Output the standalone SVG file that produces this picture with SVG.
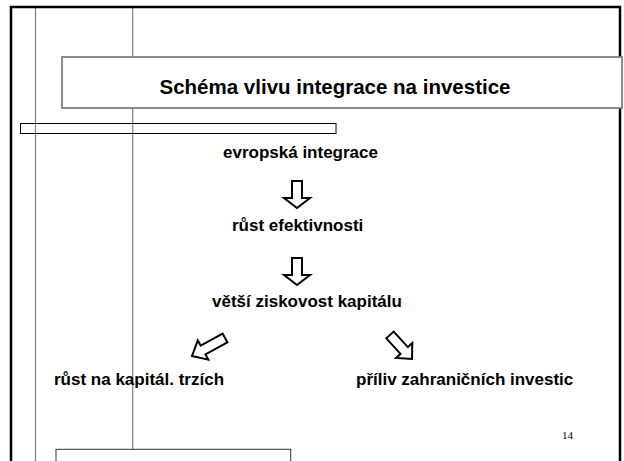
<svg xmlns="http://www.w3.org/2000/svg" width="624" height="461" viewBox="0 0 624 461">
<style>
.t{font-family:"Liberation Sans",Arial,sans-serif;font-weight:bold;font-size:17px;fill:#000}
.g{stroke:#808080;stroke-width:1.2;fill:none}
.arr{fill:#fff;stroke:#000;stroke-width:2;stroke-linejoin:miter}
</style>
<rect width="624" height="461" fill="#fff"/>
<g id="frame">
<line class="g" x1="35.5" y1="7" x2="35.5" y2="461"/>
<line class="g" x1="132.7" y1="7" x2="132.7" y2="461"/>
<path d="M11 461 V7 H620 V461" fill="none" stroke="#000" stroke-width="2.5"/>
<rect x="20.5" y="123.5" width="315.5" height="10" fill="none" stroke="#000" stroke-width="1"/>
<rect x="56" y="449.3" width="234.7" height="20" fill="#fff" stroke="#333" stroke-width="1"/>
</g>
<g id="title">
<rect x="62" y="57" width="560" height="51" fill="#fff" stroke="#808080" stroke-width="1.8"/>
<text x="335" y="94" text-anchor="middle" style="font-family:'Liberation Sans',Arial,sans-serif;font-weight:bold;font-size:20.5px">Schéma vlivu integrace na investice</text>
</g>
<g id="n1"><text class="t" x="223" y="158">evropská integrace</text></g>
<g id="n2"><text class="t" x="232" y="231">růst efektivnosti</text></g>
<g id="n3"><text class="t" x="212" y="307">větší ziskovost kapitálu</text></g>
<g id="n4"><text class="t" x="54" y="385">růst na kapitál. trzích</text></g>
<g id="n5"><text class="t" x="356" y="385">příliv zahraničních investic</text></g>
<g id="page"><text x="562" y="439" style="font-family:'Liberation Serif','Times New Roman',serif;font-size:11px">14</text></g>
<g id="connectors">
<path class="arr" d="M292 181 H302 V198 H310 L297 208 L284 198 H292 Z"/>
<path class="arr" d="M292 258 H302 V275 H310 L297 285 L284 275 H292 Z"/>
<path class="arr" transform="translate(225 338) rotate(151.4)" d="M0 -5 H25 V-11 L37.6 0 L25 11 V5 H0 Z"/>
<path class="arr" transform="translate(390 335) rotate(47.5)" d="M0 -5 H21 V-11 L32.6 0 L21 11 V5 H0 Z"/>
</g>
</svg>
